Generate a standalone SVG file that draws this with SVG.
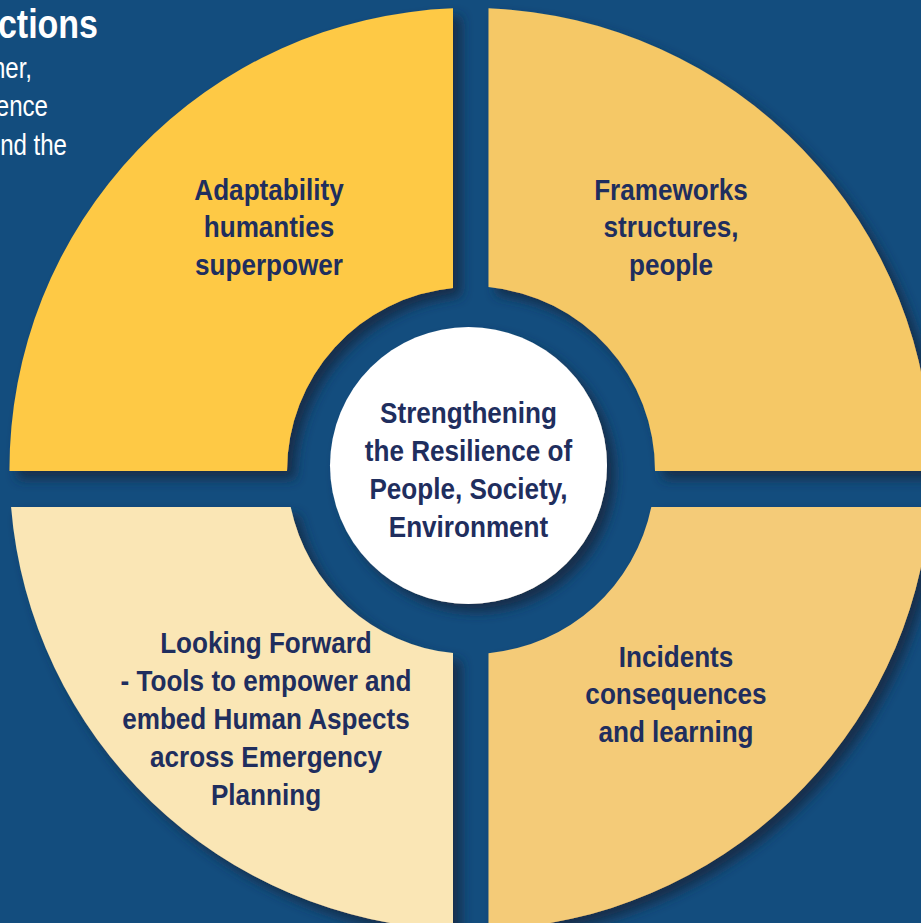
<svg xmlns="http://www.w3.org/2000/svg" width="921" height="923" viewBox="0 0 921 923">
<defs>
<filter id="sh" x="-10%" y="-10%" width="125%" height="125%">
<feDropShadow dx="8" dy="8" stdDeviation="6" flood-color="#172f4c" flood-opacity="1"/>
</filter>
<style>
.lbl{font-family:"Liberation Sans",Arial,sans-serif;font-weight:bold;font-size:30px;fill:#1f2e5e;text-anchor:middle}
.ttl{font-family:"Liberation Sans",Arial,sans-serif;font-weight:bold;font-size:40px;fill:#ffffff;text-anchor:end}
.body{font-family:"Liberation Sans",Arial,sans-serif;font-size:29px;fill:#ffffff;text-anchor:end}
.q{filter:url(#sh)}
</style>
</defs>
<rect x="0" y="0" width="921" height="923" fill="#134d7e"/>
<g id="heading">
<text class="ttl" transform="translate(98,38) scale(0.85,1)" x="0" y="0">ctions</text>
<text class="body" transform="translate(32,78) scale(0.83,1)" x="0" y="0">ner,</text>
<text class="body" transform="translate(48,116) scale(0.83,1)" x="0" y="0">ence</text>
<text class="body" transform="translate(67,155) scale(0.83,1)" x="0" y="0">nd the</text>
</g>
<g id="connectors"/>
<g id="adaptability">
<path class="q" fill="#fec944" d="M453,8.33 A461,461 0 0 0 9.5,471 L287,471 A184,184 0 0 1 453,287.9 Z"/>
<text class="lbl" transform="translate(269,0) scale(0.87,1)"><tspan x="0" y="200">Adaptability</tspan><tspan x="0" y="237.5">humanties</tspan><tspan x="0" y="275">superpower</tspan></text>
</g>
<g id="frameworks">
<path class="q" fill="#f5c866" d="M488.5,8.35 A461,461 0 0 1 931.5,471 L655,471 A184,184 0 0 0 488.5,287.1 Z"/>
<text class="lbl" transform="translate(671,0) scale(0.87,1)"><tspan x="0" y="200">Frameworks</tspan><tspan x="0" y="237.5">structures,</tspan><tspan x="0" y="275">people</tspan></text>
</g>
<g id="looking-forward">
<path class="q" fill="#fae6b5" d="M11.07,507 L290.7,507 A184,184 0 0 0 453,653.1 L453,929.67 A461,461 0 0 1 11.07,507 Z"/>
<text class="lbl" transform="translate(266,0) scale(0.87,1)"><tspan x="0" y="653">Looking Forward</tspan><tspan x="0" y="691">- Tools to empower and</tspan><tspan x="0" y="729">embed Human Aspects</tspan><tspan x="0" y="767">across Emergency</tspan><tspan x="0" y="805">Planning</tspan></text>
</g>
<g id="incidents">
<path class="q" fill="#f4cb78" d="M651.3,507 L929.93,507 A461,461 0 0 1 488.5,929.65 L488.5,653.2 A184,184 0 0 0 651.3,507 Z"/>
<text class="lbl" transform="translate(676,0) scale(0.87,1)"><tspan x="0" y="667">Incidents</tspan><tspan x="0" y="704.5">consequences</tspan><tspan x="0" y="742">and learning</tspan></text>
</g>
<g id="centre">
<circle class="q" cx="468.5" cy="465.5" r="138.5" fill="#ffffff"/>
<text class="lbl" transform="translate(468.5,0) scale(0.87,1)"><tspan x="0" y="423">Strengthening</tspan><tspan x="0" y="461">the Resilience of</tspan><tspan x="0" y="499">People, Society,</tspan><tspan x="0" y="537">Environment</tspan></text>
</g>
</svg>
